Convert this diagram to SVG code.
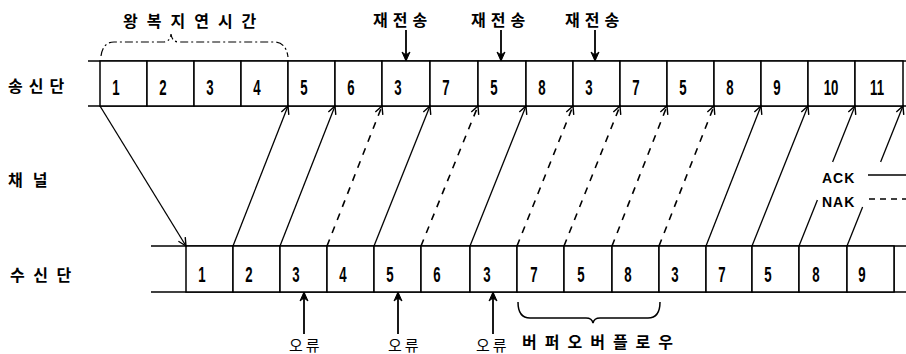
<svg xmlns="http://www.w3.org/2000/svg" width="906" height="354" viewBox="0 0 906 354">
<style>
.ln{stroke:#000;stroke-width:1.5;fill:none}
.cell{stroke:#000;stroke-width:1.5;fill:#fff}
.num{font-family:"Liberation Sans",Arial,sans-serif;font-weight:bold;font-size:22px;text-anchor:middle;fill:#000}
.ko{font-family:"Noto Sans CJK KR","Noto Sans",sans-serif;font-weight:bold;font-size:16px;fill:#000}
.kos{font-family:"Noto Sans CJK KR","Noto Sans",sans-serif;font-weight:normal;font-size:15px;fill:#000}
.leg{font-family:"Liberation Sans",Arial,sans-serif;font-weight:bold;font-size:14px;letter-spacing:1px;fill:#000}
.ack{stroke:#000;stroke-width:1.3;fill:none;marker-end:url(#v)}
.nak{stroke:#000;stroke-width:1.6;fill:none;stroke-dasharray:7 7;marker-end:url(#v)}
.ptr{stroke:#000;stroke-width:1.8;fill:none;marker-end:url(#f)}
</style>
<defs>
<marker id="v" markerUnits="userSpaceOnUse" markerWidth="12" markerHeight="12" refX="10" refY="6" orient="auto">
<path d="M2,2 L10,6 L2,10" fill="none" stroke="#000" stroke-width="1.4" stroke-dasharray="none"/>
</marker>
<marker id="f" markerUnits="userSpaceOnUse" markerWidth="12" markerHeight="12" refX="10" refY="6" orient="auto">
<path d="M1,2 L10,6 L1,10 L4,6 Z" fill="#000" stroke="#000" stroke-width="1"/>
</marker>
</defs>
<rect width="906" height="354" fill="#fff"/>

<g id="labels">
<text class="ko" x="8" y="92" letter-spacing="6">송신단</text>
<text class="ko" x="8" y="186" letter-spacing="10">채널</text>
<text class="ko" x="10" y="281" letter-spacing="8.5">수신단</text>
<text class="ko" x="123" y="27" letter-spacing="9">왕복지연시간</text>
<text class="ko" x="522" y="348" letter-spacing="8">버퍼오버플로우</text>
</g>

<g id="sender-row">
<line class="ln" x1="88" y1="61" x2="906" y2="61"/>
<line class="ln" x1="88" y1="106" x2="906" y2="106"/>
</g>
<g id="s1"><rect class="cell" x="100" y="61" width="47" height="45"/><text class="num" transform="translate(116,95) scale(0.6,1)">1</text></g>
<g id="s2"><rect class="cell" x="147" y="61" width="47" height="45"/><text class="num" transform="translate(163,95) scale(0.6,1)">2</text></g>
<g id="s3"><rect class="cell" x="194" y="61" width="47" height="45"/><text class="num" transform="translate(210,95) scale(0.6,1)">3</text></g>
<g id="s4"><rect class="cell" x="241" y="61" width="47" height="45"/><text class="num" transform="translate(257,95) scale(0.6,1)">4</text></g>
<g id="s5"><rect class="cell" x="288" y="61" width="47" height="45"/><text class="num" transform="translate(304,95) scale(0.6,1)">5</text></g>
<g id="s6"><rect class="cell" x="335" y="61" width="47" height="45"/><text class="num" transform="translate(351,95) scale(0.6,1)">6</text></g>
<g id="s7"><rect class="cell" x="382" y="61" width="48" height="45"/><text class="num" transform="translate(398,95) scale(0.6,1)">3</text></g>
<g id="s8"><rect class="cell" x="430" y="61" width="48" height="45"/><text class="num" transform="translate(446,95) scale(0.6,1)">7</text></g>
<g id="s9"><rect class="cell" x="478" y="61" width="48" height="45"/><text class="num" transform="translate(494,95) scale(0.6,1)">5</text></g>
<g id="s10"><rect class="cell" x="526" y="61" width="47" height="45"/><text class="num" transform="translate(542,95) scale(0.6,1)">8</text></g>
<g id="s11"><rect class="cell" x="573" y="61" width="47" height="45"/><text class="num" transform="translate(589,95) scale(0.6,1)">3</text></g>
<g id="s12"><rect class="cell" x="620" y="61" width="47" height="45"/><text class="num" transform="translate(636,95) scale(0.6,1)">7</text></g>
<g id="s13"><rect class="cell" x="667" y="61" width="47" height="45"/><text class="num" transform="translate(683,95) scale(0.6,1)">5</text></g>
<g id="s14"><rect class="cell" x="714" y="61" width="47" height="45"/><text class="num" transform="translate(730,95) scale(0.6,1)">8</text></g>
<g id="s15"><rect class="cell" x="761" y="61" width="47" height="45"/><text class="num" transform="translate(777,95) scale(0.6,1)">9</text></g>
<g id="s16"><rect class="cell" x="808" y="61" width="47" height="45"/><text class="num" transform="translate(831,95) scale(0.6,1)">10</text></g>
<g id="s17"><rect class="cell" x="855" y="61" width="48" height="45"/><text class="num" transform="translate(877,95) scale(0.6,1)">11</text></g>

<g id="receiver-row">
<line class="ln" x1="151" y1="246" x2="906" y2="246"/>
<line class="ln" x1="151" y1="292" x2="906" y2="292"/>
<line class="ln" x1="894" y1="246" x2="894" y2="292"/>
</g>
<g id="r1"><rect class="cell" x="186" y="246" width="47" height="46"/><text class="num" transform="translate(202,282) scale(0.6,1)">1</text></g>
<g id="r2"><rect class="cell" x="233" y="246" width="47" height="46"/><text class="num" transform="translate(249,282) scale(0.6,1)">2</text></g>
<g id="r3"><rect class="cell" x="280" y="246" width="47" height="46"/><text class="num" transform="translate(296,282) scale(0.6,1)">3</text></g>
<g id="r4"><rect class="cell" x="327" y="246" width="47" height="46"/><text class="num" transform="translate(343,282) scale(0.6,1)">4</text></g>
<g id="r5"><rect class="cell" x="374" y="246" width="47" height="46"/><text class="num" transform="translate(390,282) scale(0.6,1)">5</text></g>
<g id="r6"><rect class="cell" x="421" y="246" width="49" height="46"/><text class="num" transform="translate(437,282) scale(0.6,1)">6</text></g>
<g id="r7"><rect class="cell" x="470" y="246" width="47" height="46"/><text class="num" transform="translate(487,282) scale(0.6,1)">3</text></g>
<g id="r8"><rect class="cell" x="517" y="246" width="47" height="46"/><text class="num" transform="translate(534,282) scale(0.6,1)">7</text></g>
<g id="r9"><rect class="cell" x="564" y="246" width="48" height="46"/><text class="num" transform="translate(581,282) scale(0.6,1)">5</text></g>
<g id="r10"><rect class="cell" x="612" y="246" width="47" height="46"/><text class="num" transform="translate(628,282) scale(0.6,1)">8</text></g>
<g id="r11"><rect class="cell" x="659" y="246" width="47" height="46"/><text class="num" transform="translate(675,282) scale(0.6,1)">3</text></g>
<g id="r12"><rect class="cell" x="706" y="246" width="46" height="46"/><text class="num" transform="translate(722,282) scale(0.6,1)">7</text></g>
<g id="r13"><rect class="cell" x="752" y="246" width="47" height="46"/><text class="num" transform="translate(768,282) scale(0.6,1)">5</text></g>
<g id="r14"><rect class="cell" x="799" y="246" width="48" height="46"/><text class="num" transform="translate(816,282) scale(0.6,1)">8</text></g>
<g id="r15"><rect class="cell" x="847" y="246" width="47" height="46"/><text class="num" transform="translate(862,282) scale(0.6,1)">9</text></g>

<g id="rtt-brace">
<path d="M101,56 Q103,42 114,42 L163,42 Q170,42 171,34 Q172,42 179,42 L274,42 Q286,42 288,57" fill="none" stroke="#000" stroke-width="1.2" stroke-dasharray="8 3 2 3"/>
</g>
<g id="overflow-brace">
<path d="M518,302 Q518,318 530,318 L586,318 Q592,318 593,323 Q594,318 600,318 L648,318 Q660,318 660,302" class="ln"/>
</g>

<g id="retransmit1"><text class="ko" x="373" y="26" font-size="15" letter-spacing="5">재전송</text><line class="ptr" x1="406" y1="30" x2="406" y2="61"/></g>
<g id="retransmit2"><text class="ko" x="471" y="26" font-size="15" letter-spacing="5">재전송</text><line class="ptr" x1="501" y1="30" x2="501" y2="61"/></g>
<g id="retransmit3"><text class="ko" x="565" y="26" font-size="15" letter-spacing="5">재전송</text><line class="ptr" x1="595" y1="30" x2="595" y2="61"/></g>

<g id="error1"><text class="kos" x="289" y="351" letter-spacing="3">오류</text><line class="ptr" x1="304" y1="334" x2="304" y2="292"/></g>
<g id="error2"><text class="kos" x="388" y="351" letter-spacing="3">오류</text><line class="ptr" x1="398" y1="334" x2="398" y2="292"/></g>
<g id="error3"><text class="kos" x="476" y="351" letter-spacing="3">오류</text><line class="ptr" x1="493" y1="334" x2="493" y2="292"/></g>

<g id="legend">
<text class="leg" x="822" y="183">ACK</text>
<text class="leg" x="822" y="207">NAK</text>
<line x1="868" y1="175" x2="906" y2="175" stroke="#000" stroke-width="1.3"/>
<line x1="869" y1="199" x2="906" y2="199" stroke="#000" stroke-width="1.6" stroke-dasharray="6 5"/>
</g>

<g id="connectors">
<line class="ack" x1="100" y1="106" x2="186" y2="246"/>
<line class="ack" x1="233" y1="246" x2="288" y2="106"/>
<line class="ack" x1="280" y1="246" x2="335" y2="106"/>
<line class="nak" x1="327" y1="246" x2="382" y2="106"/>
<line class="ack" x1="374" y1="246" x2="430" y2="106"/>
<line class="nak" x1="421" y1="246" x2="478" y2="106"/>
<line class="ack" x1="470" y1="246" x2="526" y2="106"/>
<line class="nak" x1="517" y1="246" x2="573" y2="106"/>
<line class="nak" x1="564" y1="246" x2="620" y2="106"/>
<line class="nak" x1="612" y1="246" x2="667" y2="106"/>
<line class="nak" x1="659" y1="246" x2="714" y2="106"/>
<line class="ack" x1="706" y1="246" x2="761" y2="106"/>
<line class="ack" x1="752" y1="246" x2="808" y2="106"/>
<line x1="799" y1="246" x2="817.4" y2="200" stroke="#000" stroke-width="1.3"/>
<line class="ack" x1="832.6" y1="162" x2="855" y2="106"/>
<line x1="847" y1="246" x2="862.6" y2="207" stroke="#000" stroke-width="1.3"/>
<line class="ack" x1="880.6" y1="162" x2="903" y2="106"/>
</g>
</svg>
